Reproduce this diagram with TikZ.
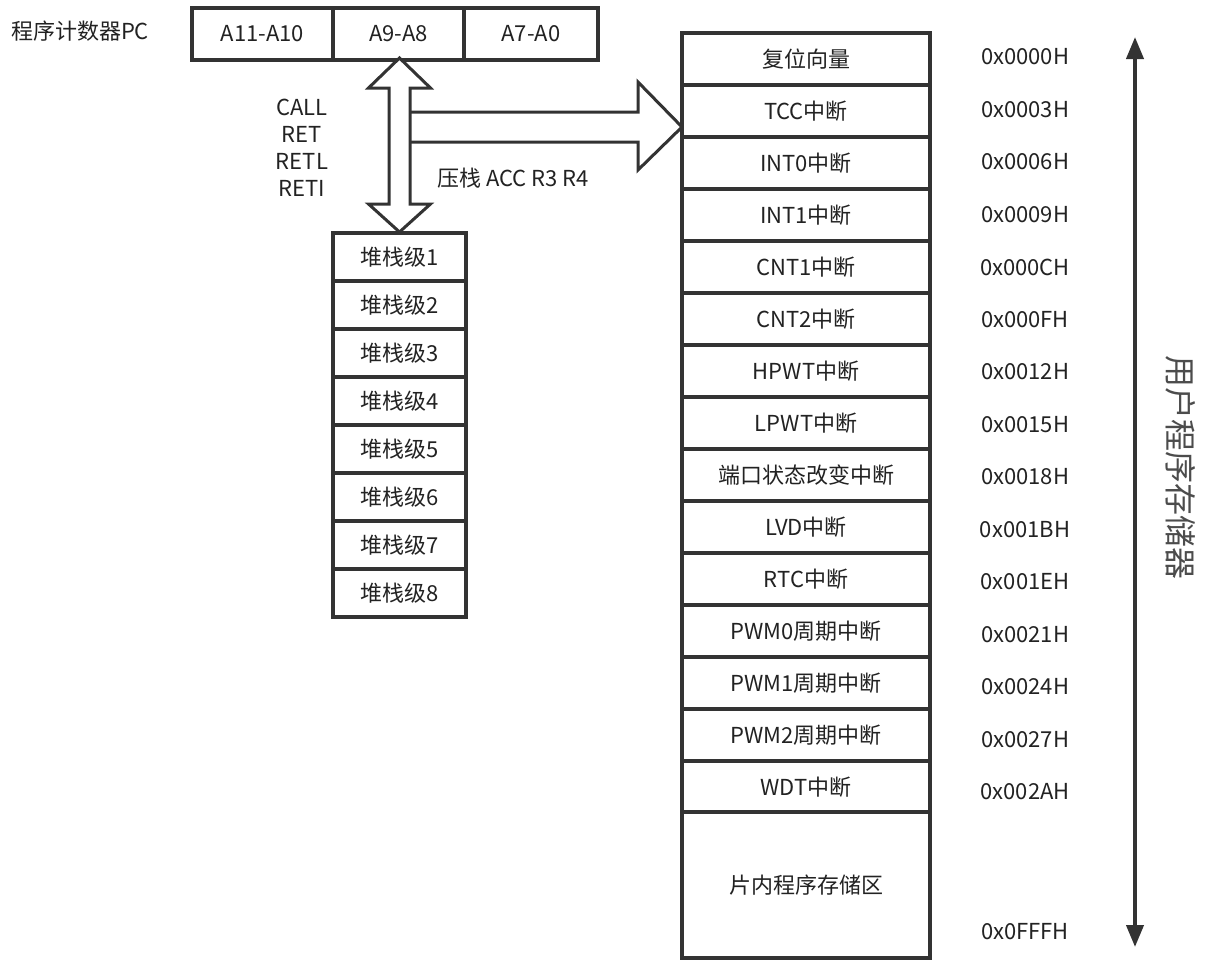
\documentclass[tikz,border=0pt]{standalone}
\usepackage{fontspec}
\setmainfont{Noto Sans CJK SC}
\usetikzlibrary{arrows.meta}
\definecolor{ln}{HTML}{333333}
\definecolor{tx}{HTML}{222222}
\begin{document}
\begin{tikzpicture}[x=1pt,y=-1pt,
  every node/.style={text=tx,font=\fontsize{22}{26}\selectfont,inner sep=0pt},
  cell/.style={draw=ln,line width=4pt,fill=white,minimum width=#1},
  pcbox/.style={cell=#1,minimum height=52pt},
  stkbox/.style={cell=133pt,minimum height=48pt},
  membox/.style={cell=248pt,minimum height=52pt},
  blockarrow/.style={draw=ln,line width=3pt,fill=white,line join=miter},
  addr/.style={}]
\useasboundingbox (0,0) rectangle (1205,959);
% program counter
\node (pclabel) at (80,31) {程序计数器PC};
\node[pcbox=141pt] (pc1) at (262.5,34) {A11-A10};
\node[pcbox=131pt] (pc2) at (398.5,34) {A9-A8};
\node[pcbox=134pt] (pc3) at (531,34) {A7-A0};
% block arrows
\draw[blockarrow] (410,112) -- (638,112) -- (638,82) -- (682,127) -- (638,170) -- (638,142) -- (410,142);
\draw[blockarrow] (399.5,58) -- (430.5,88) -- (410,88) -- (410,204) -- (430.5,204) -- (399.5,232)
  -- (368.5,204) -- (389,204) -- (389,88) -- (368.5,88) -- cycle;
\node (call) at (302,107) {CALL};
\node (ret) at (302,134) {RET};
\node (retl) at (302,161) {RETL};
\node (reti) at (302,188) {RETI};
\node[anchor=west] (push) at (437,178) {压栈 ACC R3 R4};
% stack
\foreach \i in {1,...,8}{
  \node[stkbox] (s\i) at (399.5,{257+48*(\i-1)}) {堆栈级\i};
}
% memory map
\foreach \t [count=\i from 0] in {复位向量,TCC中断,INT0中断,INT1中断,CNT1中断,CNT2中断,HPWT中断,LPWT中断,端口状态改变中断,LVD中断,RTC中断,PWM0周期中断,PWM1周期中断,PWM2周期中断,WDT中断}{
  \node[membox] (m\i) at (806,{59+52*\i}) {\t};
}
\node[cell=248pt,minimum height=146pt] (m15) at (806,885) {片内程序存储区};
\foreach \a [count=\i from 0] in {0x0000H,0x0003H,0x0006H,0x0009H,0x000CH,0x000FH,0x0012H,0x0015H,0x0018H,0x001BH,0x001EH,0x0021H,0x0024H,0x0027H,0x002AH}{
  \node[addr] (a\i) at (1025,{57+52.5*\i}) {\a};
}
\node[addr] (a15) at (1025,932) {0x0FFFH};
% user program memory arrow
\coordinate (top) at (1135,37);
\coordinate (bot) at (1135,947);
\draw[ln,line width=4pt,{Triangle[length=22pt,width=17pt]}-{Triangle[length=22pt,width=17pt]}] (top) -- (bot);
\node[rotate=-90,font=\fontsize{32}{33}\selectfont,text=black!70] (umem) at (1181,467) {用户程序存储器};
\end{tikzpicture}
\end{document}
